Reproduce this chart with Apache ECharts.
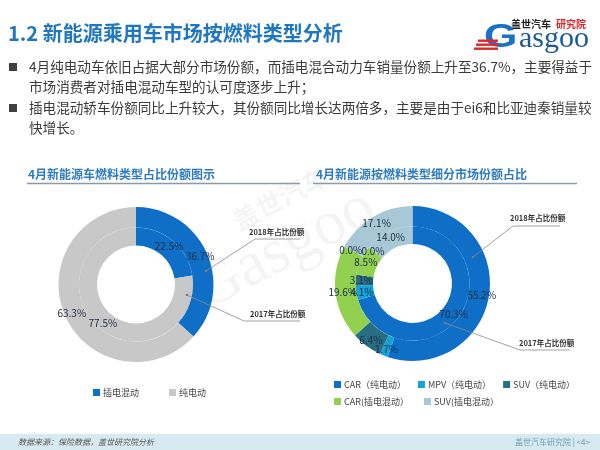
<!DOCTYPE html>
<html><head><meta charset="utf-8">
<script src="https://cdn.jsdelivr.net/npm/echarts@6/dist/echarts.min.js"></script>
<style>html,body{margin:0;padding:0;background:#fff}#c{width:600px;height:450px}</style>
</head><body><div id="c"></div>
<script>
// ---- data ----
const leftCats = ['插电混动', '纯电动'];
const left2017 = [22.5, 77.5];
const left2018 = [36.7, 63.3];
const rightCats = ['CAR（纯电动）', 'MPV（纯电动）', 'SUV（纯电动）', 'CAR(插电混动）', 'MPV(插电混动）', 'SUV(插电混动）'];
const right2017 = [70.3, 4.1, 3.1, 8.5, 0.0, 14.0];
const right2018 = [55.2, 1.7, 6.4, 19.6, 0.0, 17.1];
const rightLegendRow1 = ['CAR（纯电动）', 'MPV（纯电动）', 'SUV（纯电动）'];
const rightLegendRow2 = ['CAR(插电混动）', 'SUV(插电混动）'];
const bullets = [
  ['4月纯电动车依旧占据大部分市场份额，而插电混合动力车销量份额上升至36.7%，主要得益于', '市场消费者对插电混动车型的认可度逐步上升；'],
  ['插电混动轿车份额同比上升较大，其份额同比增长达两倍多，主要是由于ei6和比亚迪秦销量较', '快增长。']
];

const leftColors = ['#0f6fc6', '#c8c8c8'];
const rightColors = ['#0f6fc6', '#12a3d8', '#276e83', '#92d050', '#92d050', '#a8c8d6'];
const CJK = '"Noto Sans CJK SC","Noto Sans",sans-serif';

function mk(cats, vals, colors) {
  return cats.map((n, i) => ({ name: n, value: vals[i], itemStyle: { color: colors[i] } }));
}
const lbl = {
  show: true, position: 'inside', color: '#1d2b45', fontSize: 10, fontFamily: CJK,
  overflow: 'none', width: null, minMargin: 0,
  formatter: p => p.value.toFixed(1) + '%'
};
function pie(center, radius, data) {
  return {
    type: 'pie', center, radius, startAngle: 90, clockwise: true, silent: true,
    avoidLabelOverlap: false, minShowLabelAngle: 0, stillShowZeroSum: true,
    labelLayout: { hideOverlap: false },
    label: lbl, labelLine: { show: false }, emphasis: { disabled: true },
    itemStyle: { borderWidth: 0 }, data
  };
}

const chart = echarts.init(document.getElementById('c'));
const g = [];
function txt(x, y, text, font, fill, align, extra) {
  g.push(Object.assign({ type: 'text', x, y, style: { text, font, fill, textAlign: align || 'left', textVerticalAlign: 'middle' } }, extra || {}));
}
// watermark
g.push({ type: 'group', x: 285, y: 250, rotation: Math.PI / 6.5, z: -10, children: [
  { type: 'text', x: 0, y: 0, style: { text: 'Gasgoo', font: '64px "Liberation Serif",serif', fill: 'rgba(0,0,0,0.045)', textAlign: 'center', textVerticalAlign: 'middle' } },
  { type: 'text', x: 20, y: -48, style: { text: '盖世汽车', font: 'bold 26px ' + CJK, fill: 'rgba(0,0,0,0.045)', textAlign: 'center', textVerticalAlign: 'middle' } }
]});
// header
txt(8, 33, '1.2 新能源乘用车市场按燃料类型分析', 'bold 20px ' + CJK, '#1f77bf');
// logo
txt(511, 24, '盖世汽车', 'bold 10px ' + CJK, '#222');
txt(556, 24, '研究院', 'bold 10px ' + CJK, '#e0262b');
txt(484, 38, 'G', 'bold 33px "Liberation Sans",sans-serif', '#1a72c2', 'left', { scaleX: 1.3 });
txt(519, 39, 'asgoo', '30px "Liberation Serif",serif', '#1a5a96');
[0, 1, 2].forEach(i => g.push({ type: 'rect', shape: { x: 478 - i * 2, y: 39.5 + i * 4, width: 20 + i * 2, height: 2.4 }, style: { fill: '#e0262b' } }));
// bullets
const lineY = [[67, 87], [108, 128]];
bullets.forEach((b, i) => {
  txt(8, lineY[i][0], '■', '10px ' + CJK, '#404040');
  b.forEach((line, j) => txt(29, lineY[i][j], line, '13.6px ' + CJK, '#3a3a3a'));
});
// section titles
txt(28, 174, '4月新能源车燃料类型占比份额图示', 'bold 12px ' + CJK, '#2e7bbd');
txt(316, 174, '4月新能源按燃料类型细分市场份额占比', 'bold 12px ' + CJK, '#2e7bbd');
g.push({ type: 'line', shape: { x1: 27, y1: 183.5, x2: 300, y2: 183.5 }, style: { stroke: '#8c9aa6', lineWidth: 1.5 } });
g.push({ type: 'line', shape: { x1: 313, y1: 183.5, x2: 577, y2: 183.5 }, style: { stroke: '#8c9aa6', lineWidth: 1.5 } });
// callouts
function callout(pts, label, tx, ty) {
  g.push({ type: 'polyline', shape: { points: pts }, style: { stroke: '#8a8a8a', lineWidth: 0.8, fill: null }, z: 20 });
  g.push({ type: 'circle', shape: { cx: pts[0][0], cy: pts[0][1], r: 1.3 }, style: { fill: '#7a7a7a' }, z: 20 });
  txt(tx, ty, label, 'bold 7.5px ' + CJK, '#333', 'left', { z: 20 });
}
callout([[206, 271], [255, 239], [300, 239]], '2018年占比份额', 249, 232);
callout([[187, 295], [244, 321], [300, 321]], '2017年占比份额', 250, 314);
callout([[473, 257], [513, 226], [560, 226]], '2018年占比份额', 510, 218);
callout([[445, 323], [520, 350], [570, 350]], '2017年占比份额', 519, 343);
// footer
g.push({ type: 'rect', shape: { x: 0, y: 434, width: 600, height: 16 }, style: { fill: '#d7e9f1' } });
txt(18, 442, '数据来源：保险数据，盖世研究院分析', 'italic 8px ' + CJK, '#555');
txt(590, 442, '盖世汽车研究院 | <4>', '8px ' + CJK, '#6f9bb8', 'right');

const legendBase = { orient: 'horizontal', itemWidth: 7, itemHeight: 7, icon: 'rect', selectedMode: false,
  textStyle: { fontSize: 9, color: '#444', fontFamily: CJK, padding: [0, 0, 0, -2] } };

chart.setOption({
  animation: false,
  graphic: g,
  legend: [
    Object.assign({}, legendBase, { left: 88, top: 383, itemGap: 30, data: leftCats }),
    Object.assign({}, legendBase, { left: 329, top: 375, itemGap: 12, data: rightLegendRow1 }),
    Object.assign({}, legendBase, { left: 329, top: 392, itemGap: 15, data: rightLegendRow2 })
  ],
  series: [
    pie([136, 284.5], [39, 57], mk(leftCats, left2017, leftColors)),
    pie([136, 284.5], [57, 77.5], mk(leftCats, left2018, leftColors)),
    pie([412.5, 283.5], [39.5, 57], mk(rightCats, right2017, rightColors)),
    pie([412.5, 283.5], [57, 77.5], mk(rightCats, right2018, rightColors))
  ]
});
</script></body></html>
